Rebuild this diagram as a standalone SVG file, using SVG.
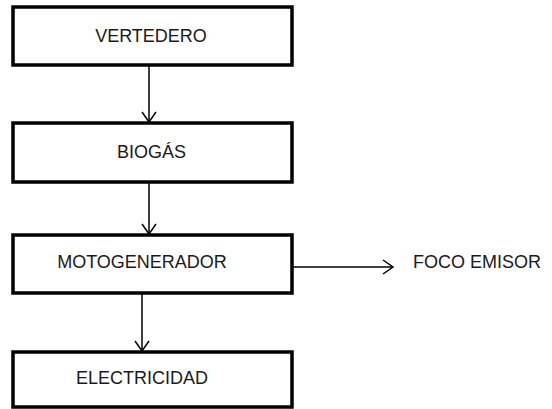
<svg xmlns="http://www.w3.org/2000/svg" width="552" height="409" viewBox="0 0 552 409">
<style>
.box{fill:#fff;stroke:#000;stroke-width:3.5}
.lbl{font-family:"Liberation Sans",Arial,sans-serif;font-size:18px;fill:#1a1a1a;text-anchor:middle}
.con{stroke:#000;stroke-width:1.5;fill:none}
</style>
<defs>
<marker id="arr" markerUnits="userSpaceOnUse" markerWidth="14" markerHeight="18" refX="11" refY="8" orient="auto">
<path d="M1,1 L11,8 L1,15" fill="none" stroke="#000" stroke-width="1.5"/>
</marker>
</defs>
<rect width="552" height="409" fill="#fff"/>
<g id="connectors">
<line class="con" x1="149" y1="65" x2="149" y2="122" marker-end="url(#arr)"/>
<line class="con" x1="149" y1="182" x2="149" y2="234" marker-end="url(#arr)"/>
<line class="con" x1="142" y1="293" x2="142" y2="351" marker-end="url(#arr)"/>
<line class="con" x1="292" y1="267" x2="393" y2="267" marker-end="url(#arr)"/>
</g>
<g id="vertedero">
<rect class="box" x="13" y="7" width="279" height="58"/>
<text class="lbl" x="151" y="42">VERTEDERO</text>
</g>
<g id="biogas">
<rect class="box" x="13" y="123" width="279" height="59"/>
<text class="lbl" x="151.5" y="158">BIOGÁS</text>
</g>
<g id="motogenerador">
<rect class="box" x="13" y="235" width="279" height="58"/>
<text class="lbl" x="142" y="268">MOTOGENERADOR</text>
</g>
<g id="electricidad">
<rect class="box" x="13" y="352" width="279" height="55"/>
<text class="lbl" x="142" y="384">ELECTRICIDAD</text>
</g>
<g id="foco-emisor">
<text class="lbl" x="413" y="268" style="text-anchor:start">FOCO EMISOR</text>
</g>
</svg>
